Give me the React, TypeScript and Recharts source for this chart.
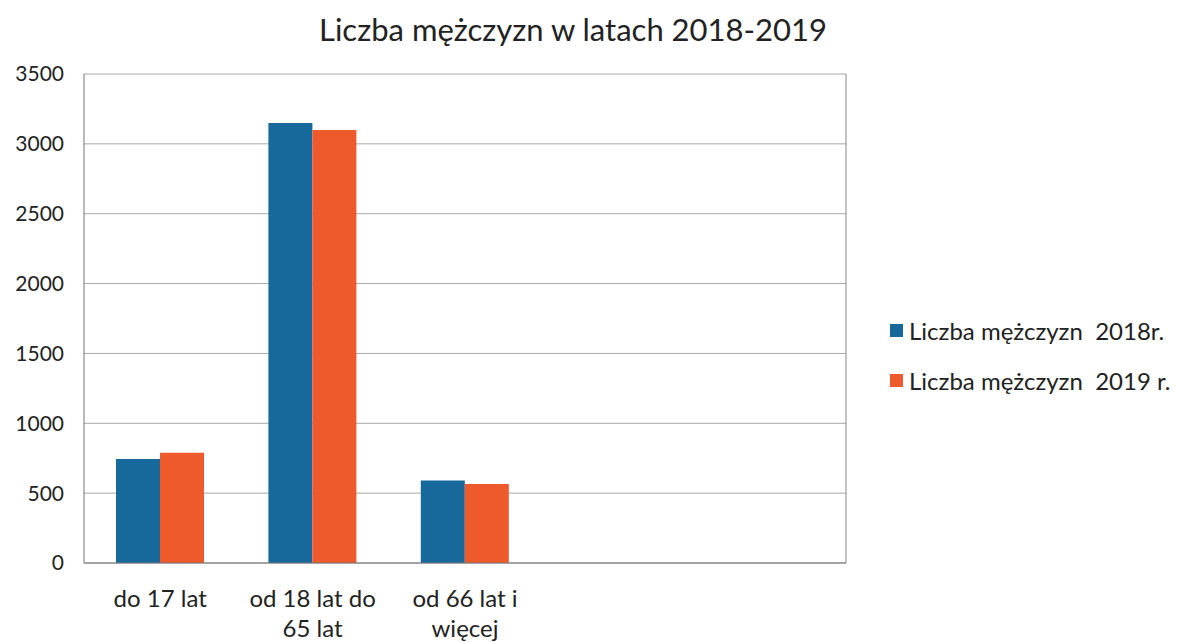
import { BarChart, Bar, XAxis, YAxis, CartesianGrid, Text } from 'recharts';

const categories = ['do 17 lat', 'od 18 lat do 65 lat', 'od 66 lat i więcej', '', ''];
const tickLines: Record<string, string[]> = {
  'do 17 lat': ['do 17 lat'],
  'od 18 lat do 65 lat': ['od 18 lat do', '65 lat'],
  'od 66 lat i więcej': ['od 66 lat i', 'więcej'],
};
const men2018 = [745, 3150, 590, null, null];
const men2019 = [790, 3100, 565, null, null];
const yTicks = [0, 500, 1000, 1500, 2000, 2500, 3000, 3500];
const seriesNames = ['Liczba mężczyzn  2018r.', 'Liczba mężczyzn  2019 r.'];

const data = categories.map((c, i) => ({ name: c, key: `c${i}`, a: men2018[i], b: men2019[i] }));

const FONT = 'Lato, "Open Sans", sans-serif';
const BLUE = '#17699b';
const ORANGE = '#ef5a2c';

function XTick({ x, y, payload }: any) {
  const name = data[payload.index]?.name ?? '';
  const lines = tickLines[name] ?? [];
  return (
    <g>
      {lines.map((l, i) => (
        <Text key={i} x={x} y={y + 27 + i * 30} textAnchor="middle" verticalAnchor="middle" fontSize={24} fill="#222" fontFamily={FONT}>
          {l}
        </Text>
      ))}
    </g>
  );
}

function LegendBox() {
  const colors = [BLUE, ORANGE];
  return (
    <div style={{ position: 'absolute', left: 890, top: 305, fontFamily: FONT, fontSize: 24, color: '#222' }}>
      {seriesNames.map((n, i) => (
        <div key={n} style={{ display: 'flex', alignItems: 'center', height: 50, whiteSpace: 'pre' }}>
          <span style={{ width: 13, height: 13, background: colors[i], marginRight: 6 }} />
          {n}
        </div>
      ))}
    </div>
  );
}

export default function App() {
  return (
    <div style={{ position: 'absolute', left: 0, top: 0, width: 1181, height: 642, background: '#fff' }}>
      <div style={{ position: 'absolute', left: 0, width: 1146, top: 10, textAlign: 'center', fontFamily: FONT, fontSize: 31, color: '#222' }}>
        Liczba mężczyzn w latach 2018-2019
      </div>
      <BarChart
        width={1181}
        height={642}
        data={data}
        margin={{ top: 74, right: 335, bottom: 0, left: 0 }}
        barCategoryGap={32}
        barGap={0}
      >
        <CartesianGrid vertical={false} stroke="#a8a8a8" />
        <CartesianGrid horizontal={false} verticalPoints={[846]} stroke="#888" />
        <XAxis dataKey="key" height={79} tick={<XTick />} tickLine={false} axisLine={{ stroke: '#777' }} interval={0} />
        <YAxis
          width={84}
          domain={[0, 3500]}
          ticks={yTicks}
          tickSize={0}
          tickMargin={20}
          tickLine={false}
          axisLine={{ stroke: '#777' }}
          tick={{ fontSize: 21, fill: '#222', fontFamily: FONT }}
        />
        <Bar dataKey="a" name={seriesNames[0]} fill={BLUE} isAnimationActive={false} />
        <Bar dataKey="b" name={seriesNames[1]} fill={ORANGE} isAnimationActive={false} />
      </BarChart>
      <LegendBox />
    </div>
  );
}
